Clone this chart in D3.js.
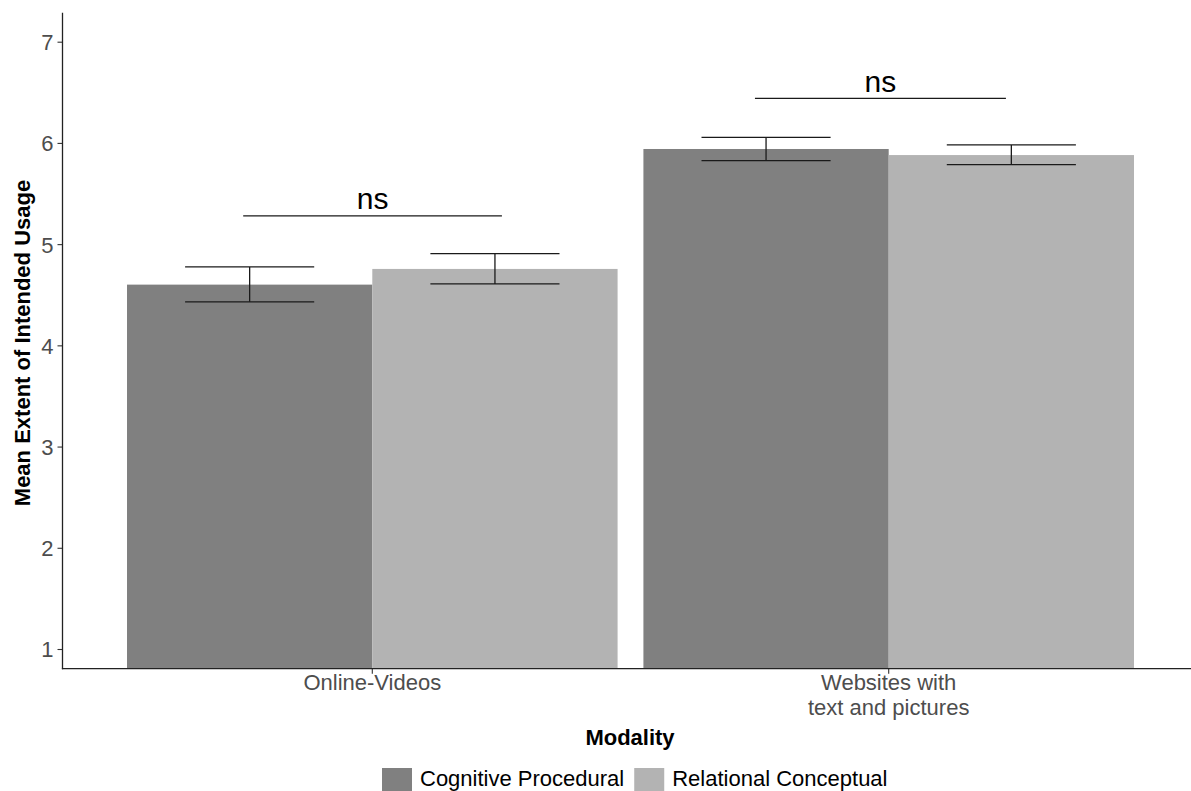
<!DOCTYPE html>
<html>
<head>
<meta charset="utf-8">
<script src="https://cdn.jsdelivr.net/npm/d3@7/dist/d3.min.js"></script>
<style>
  html, body { margin: 0; padding: 0; background: #fff; }
  svg { display: block; font-family: "Liberation Sans", Arial, sans-serif; }
</style>
</head>
<body>
<svg id="chart" width="1191" height="791"></svg>
<script>
// ---- data ----
const categories = ["Online-Videos", "Websites with\ntext and pictures"];
const groups = ["Cognitive Procedural", "Relational Conceptual"];
const colors = ["#808080", "#b3b3b3"];
const cognitiveMean = [4.60, 5.94];
const cognitiveLow  = [4.43, 5.825];
const cognitiveHigh = [4.775, 6.055];
const relationalMean = [4.755, 5.88];
const relationalLow  = [4.607, 5.785];
const relationalHigh = [4.906, 5.98];
const yTicks = [1, 2, 3, 4, 5, 6, 7];
const sigLabels = ["ns", "ns"];
const sigY = [5.28, 6.44];
const sigXmin = [0.750, 1.741];
const sigXmax = [1.251, 2.227];

// ---- layout ----
const svg = d3.select("#chart");
const panel = { left: 62.5, right: 1191, top: 12.7, bottom: 668.7 };
const y = d3.scaleLinear().domain([1, 7]).range([649, 41.7]);
const x = d3.scaleLinear().domain([1, 2]).range([372.3, 888.7]);
const dodge = 0.95, half = dodge / 2, errW = 0.25;

const series = [
  { name: groups[0], color: colors[0], mean: cognitiveMean, lo: cognitiveLow, hi: cognitiveHigh, off: -half / 2 },
  { name: groups[1], color: colors[1], mean: relationalMean, lo: relationalLow, hi: relationalHigh, off: half / 2 }
];

// bars
series.forEach(s => {
  svg.append("g").selectAll("rect").data(categories).join("rect")
    .attr("x", (d, i) => x(i + 1 + s.off - half / 2))
    .attr("width", x(1 + half) - x(1))
    .attr("y", (d, i) => y(s.mean[i]))
    .attr("height", (d, i) => panel.bottom - y(s.mean[i]))
    .attr("fill", s.color);
});

// error bars
series.forEach(s => {
  const g = svg.append("g").attr("stroke", "#1a1a1a").attr("stroke-width", 1.3).attr("fill", "none");
  categories.forEach((d, i) => {
    const cx = i + 1 + s.off;
    g.append("line").attr("x1", x(cx)).attr("x2", x(cx)).attr("y1", y(s.lo[i])).attr("y2", y(s.hi[i]));
    g.append("line").attr("x1", x(cx - errW / 2)).attr("x2", x(cx + errW / 2)).attr("y1", y(s.lo[i])).attr("y2", y(s.lo[i]));
    g.append("line").attr("x1", x(cx - errW / 2)).attr("x2", x(cx + errW / 2)).attr("y1", y(s.hi[i])).attr("y2", y(s.hi[i]));
  });
});

// significance
sigLabels.forEach((lab, i) => {
  svg.append("line")
    .attr("x1", x(sigXmin[i])).attr("x2", x(sigXmax[i]))
    .attr("y1", y(sigY[i])).attr("y2", y(sigY[i]))
    .attr("stroke", "#1a1a1a").attr("stroke-width", 1.3);
  svg.append("text")
    .attr("x", x((sigXmin[i] + sigXmax[i]) / 2))
    .attr("y", y(sigY[i]) - 6.5)
    .attr("text-anchor", "middle")
    .attr("font-size", 30)
    .attr("fill", "#000")
    .text(lab);
});

// y axis
const yAxis = d3.axisLeft(y).tickValues(yTicks).tickSize(5).tickPadding(4).tickFormat(d3.format("d"));
const yg = svg.append("g").attr("transform", `translate(${panel.left},0)`).call(yAxis);
yg.select(".domain").remove();
yg.selectAll(".tick line").attr("stroke", "#333").attr("stroke-width", 1.1);
yg.selectAll(".tick text").attr("fill", "#4d4d4d").attr("font-size", 22).attr("dy", "0.36em")
  .attr("font-family", '"Liberation Sans", Arial, sans-serif');
svg.append("line").attr("x1", panel.left).attr("x2", panel.left)
  .attr("y1", panel.top).attr("y2", panel.bottom + 0.6).attr("stroke", "#222").attr("stroke-width", 1.3);

// x axis
const xg = svg.append("g");
categories.forEach((c, i) => {
  xg.append("line").attr("x1", x(i + 1)).attr("x2", x(i + 1))
    .attr("y1", panel.bottom).attr("y2", panel.bottom + 5).attr("stroke", "#333").attr("stroke-width", 1.1);
  const t = xg.append("text").attr("text-anchor", "middle").attr("fill", "#4d4d4d").attr("font-size", 22);
  c.split("\n").forEach((ln, j) => {
    t.append("tspan").attr("x", x(i + 1)).attr("y", 690 + j * 24.5).text(ln);
  });
});
svg.append("line").attr("x1", panel.left - 0.6).attr("x2", panel.right)
  .attr("y1", panel.bottom).attr("y2", panel.bottom).attr("stroke", "#222").attr("stroke-width", 1.3);

// axis titles
svg.append("text").attr("x", 630).attr("y", 745).attr("text-anchor", "middle")
  .attr("font-weight", "bold").attr("font-size", 22).attr("fill", "#000").text("Modality");
svg.append("text").attr("transform", "translate(30,343) rotate(-90)").attr("text-anchor", "middle")
  .attr("font-weight", "bold").attr("font-size", 22).attr("fill", "#000").text("Mean Extent of Intended Usage");

// legend
const leg = svg.append("g");
let lx = 382;
series.forEach(s => {
  leg.append("rect").attr("x", lx).attr("y", 768).attr("width", 30).attr("height", 30).attr("fill", s.color);
  const t = leg.append("text").attr("x", lx + 38).attr("y", 785.5).attr("font-size", 22).attr("fill", "#000").text(s.name);
  const w = t.node().getComputedTextLength();
  lx = lx + 38 + w + 10;
});
</script>
</body>
</html>
